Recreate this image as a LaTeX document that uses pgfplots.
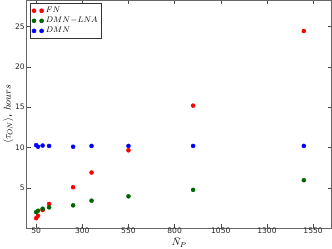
\documentclass[border=0pt]{standalone}
\usepackage{pgfplots}
\pgfplotsset{compat=1.18}
\usepackage{fontspec}
\setmainfont{DejaVu Sans}
\definecolor{mplred}{RGB}{255,0,0}
\definecolor{mplgreen}{RGB}{0,100,0}
\definecolor{mplblue}{RGB}{0,0,255}
\begin{document}
\begin{tikzpicture}
\begin{axis}[
  scale only axis,
  width=301pt, height=225pt,
  xmin=0, xmax=1650, ymin=0, ymax=28.25,
  xtick={50,300,550,800,1050,1300,1550},
  ytick={5,10,15,20,25},
  tick align=inside,
  major tick length=4pt,
  tick style={black!70, line width=0.5pt},
  axis line style={black!60, line width=0.9pt},
  /pgf/number format/assume math mode=true,
  /pgf/number format/1000 sep={},
  ticklabel style={font=\fontsize{7.5}{8}\selectfont, text=black!85, inner sep=1pt},
  xticklabel style={yshift=1.5pt},
  yticklabel style={xshift=-1pt},
  xlabel={$\bar{N}_P$},
  ylabel={$\langle \tau_{ON}\rangle$, $hours$},
  xlabel style={font=\fontsize{10}{11}\selectfont, inner sep=1pt, yshift=-1.5pt},
  ylabel style={font=\fontsize{10}{11}\selectfont, yshift=-3pt},
  legend style={at={(0.01,0.987)}, anchor=north west, draw=black!80, line width=0.5pt,
    font=\fontsize{8.5}{9.5}\selectfont, inner sep=1.5pt, row sep=-1pt,
    cells={anchor=west}},
  legend image code/.code={
    \fill (0pt,0pt) circle (2pt);
    \fill (7.5pt,0pt) circle (2pt);
  },
]
\addplot[only marks, mark=*, mark size=2pt, color=mplred] coordinates {
 (50,1.24) (60,1.54) (85,2.25) (120,3.0) (250,5.08) (350,6.9) (550,9.66) (900,15.2) (1500,24.46)};
\addlegendentry{$FN$}
\addplot[only marks, mark=*, mark size=2pt, color=mplgreen] coordinates {
 (50,1.99) (60,2.16) (85,2.41) (120,2.58) (250,2.83) (350,3.41) (550,3.95) (900,4.75) (1500,5.95)};
\addlegendentry{$DMN\!-\!LNA$}
\addplot[only marks, mark=*, mark size=2pt, color=mplblue] coordinates {
 (50,10.3) (60,10.1) (85,10.25) (120,10.2) (250,10.1) (350,10.2) (550,10.2) (900,10.2) (1500,10.2)};
\addlegendentry{$DMN$}
\end{axis}
\end{tikzpicture}
\end{document}
